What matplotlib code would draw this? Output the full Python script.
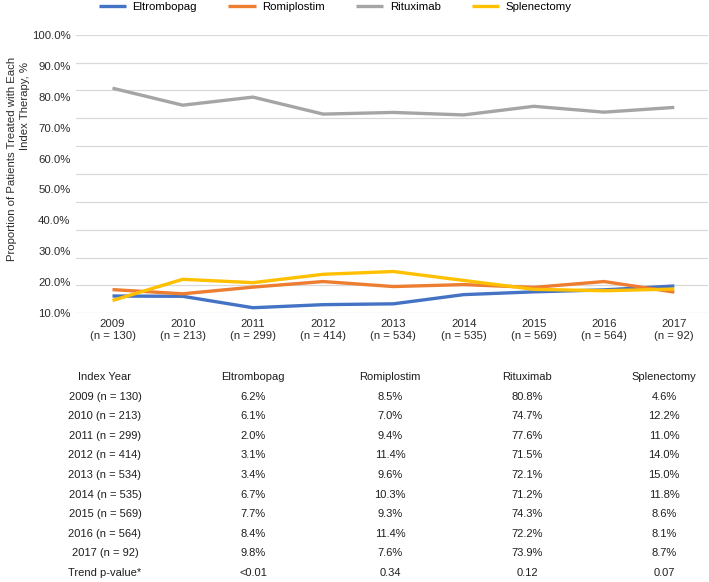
import matplotlib
matplotlib.use("Agg")
import matplotlib.pyplot as plt
import numpy as np

plt.rcParams['font.family'] = ['Liberation Sans', 'DejaVu Sans']

years = ["2009", "2010", "2011", "2012", "2013", "2014", "2015", "2016", "2017"]
ns = [130, 213, 299, 414, 534, 535, 569, 564, 92]
eltrombopag = [6.2, 6.1, 2.0, 3.1, 3.4, 6.7, 7.7, 8.4, 9.8]
romiplostim = [8.5, 7.0, 9.4, 11.4, 9.6, 10.3, 9.3, 11.4, 7.6]
rituximab = [80.8, 74.7, 77.6, 71.5, 72.1, 71.2, 74.3, 72.2, 73.9]
splenectomy = [4.6, 12.2, 11.0, 14.0, 15.0, 11.8, 8.6, 8.1, 8.7]
p_values = ["<0.01", "0.34", "0.12", "0.07"]
ytick_labels = ["10.0%", "20.0%", "30.0%", "40.0%", "50.0%", "60.0%",
                "70.0%", "80.0%", "90.0%", "100.0%"]

series = [("Eltrombopag", eltrombopag, "#4472C4"),
          ("Romiplostim", romiplostim, "#ED7D31"),
          ("Rituximab", rituximab, "#A5A5A5"),
          ("Splenectomy", splenectomy, "#FFC000")]

W, H = 709, 582
fig = plt.figure(figsize=(W / 100, H / 100), dpi=100)

def fx(px):
    return px / W

def fy(py):
    return 1 - py / H

ax = fig.add_axes([fx(76), fy(313.3), fx(708) - fx(76), fy(34.7) - fy(313.3)])
x = np.arange(len(years))
handles = []
for name, vals, col in series:
    h, = ax.plot(x, vals, color=col, lw=2.4, label=name, solid_capstyle='butt')
    handles.append(h)

ax.set_xlim(-0.52, 8.48)
ax.set_ylim(0, 100)
for g in np.arange(0, 101, 10):
    ax.axhline(g, color="#d9d9d9", lw=0.9, zorder=0)
ax.set_yticks(np.linspace(0, 100, len(ytick_labels)))
ax.set_yticklabels(ytick_labels, fontsize=8.2, color="#2b2b2b")
ax.set_xticks(x)
ax.set_xticklabels([f"{y}\n(n = {n})" for y, n in zip(years, ns)],
                   fontsize=8.2, color="#2b2b2b", linespacing=1.25)
ax.tick_params(axis='both', length=0)
ax.tick_params(axis='y', pad=4)
ax.tick_params(axis='x', pad=4)
for s in ax.spines.values():
    s.set_visible(False)

fig.text(fx(12), fy(57), "Proportion of Patients Treated with Each",
         rotation=90, ha='center', va='top', fontsize=8.2, color="#2b2b2b")
fig.text(fx(25), fy(62), "Index Therapy, %",
         rotation=90, ha='center', va='top', fontsize=8.2, color="#2b2b2b")

fig.legend(handles=handles, loc='center left', bbox_to_anchor=(fx(99), fy(7)),
           ncol=4, frameon=False, fontsize=8.2, handlelength=2.4,
           handletextpad=0.55, columnspacing=2.75, borderpad=0, borderaxespad=0)

# table
col_x = [105, 253, 390, 527, 664]
row_y = np.linspace(377, 573, 11)
headers = ["Index Year", "Eltrombopag", "Romiplostim", "Rituximab", "Splenectomy"]
tc = "#1e1e1e"
for cx, t in zip(col_x, headers):
    fig.text(fx(cx), fy(row_y[0]), t, ha='center', va='center', fontsize=8, color=tc)
for i, (yv, n) in enumerate(zip(years, ns)):
    ry = fy(row_y[i + 1])
    fig.text(fx(col_x[0]), ry, f"{yv} (n = {n})", ha='center', va='center', fontsize=8, color=tc)
    for j, (_, vals, _) in enumerate(series):
        fig.text(fx(col_x[j + 1]), ry, f"{vals[i]:.1f}%", ha='center', va='center', fontsize=8, color=tc)
ry = fy(row_y[-1])
fig.text(fx(col_x[0]), ry, "Trend p-value*", ha='center', va='center', fontsize=8, color=tc)
for j, p in enumerate(p_values):
    fig.text(fx(col_x[j + 1]), ry, p, ha='center', va='center', fontsize=8, color=tc)

fig.savefig("out.png", dpi=100)
